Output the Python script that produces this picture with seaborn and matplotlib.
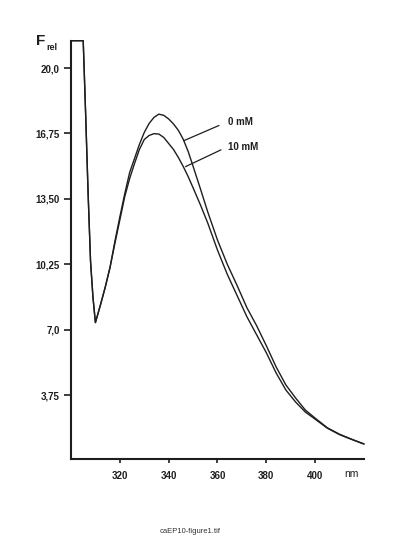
import pandas as pd
import matplotlib
matplotlib.use("Agg")
import matplotlib.pyplot as plt
import seaborn as sns

# --- data -------------------------------------------------------
NM = [300, 305, 306, 307, 308, 309, 310, 312, 314, 316, 318, 320, 322,
      324, 326, 328, 330, 332, 334, 336, 338, 340, 342, 344, 346, 348,
      350, 353, 356, 360, 364, 368, 372, 376, 380, 384, 388, 392, 396,
      400, 405, 410, 415, 420]

F_0MM = [21.36, 21.36, 17.7, 13.8, 10.4, 8.6, 7.35, 8.2, 9.1, 10.1, 11.4,
         12.6, 13.75, 14.8, 15.5, 16.2, 16.8, 17.25, 17.55, 17.71, 17.65,
         17.47, 17.22, 16.9, 16.45, 15.85, 15.12, 14.0, 12.85, 11.45,
         10.25, 9.2, 8.1, 7.2, 6.2, 5.15, 4.25, 3.6, 3.0, 2.6, 2.12, 1.8,
         1.55, 1.32]

F_10MM = [21.36, 21.36, 17.7, 13.8, 10.4, 8.6, 7.35, 8.2, 9.1, 10.1, 11.3,
          12.45, 13.6, 14.5, 15.25, 15.95, 16.45, 16.65, 16.74, 16.72, 16.55,
          16.25, 15.95, 15.55, 15.1, 14.6, 14.05, 13.2, 12.3, 10.95,
          9.75, 8.7, 7.65, 6.75, 5.85, 4.85, 4.0, 3.4, 2.9, 2.55, 2.1, 1.78,
          1.54, 1.31]

Y_TICKS = [20.0, 16.75, 13.5, 10.25, 7.0, 3.75]
Y_LABELS = ["20,0", "16,75", "13,50", "10,25", "7,0", "3,75"]
X_TICKS = [320, 340, 360, 380, 400]

INK = "#1e1e1e"

sns.set_theme(style="white")
plt.rcParams["font.family"] = ["Liberation Sans", "DejaVu Sans"]

fig = plt.figure(figsize=(4.07, 5.47), dpi=100)
ax = fig.add_axes([71 / 407, 1 - 459 / 547, (364 - 71) / 407, (459 - 40.7) / 547])

df = pd.DataFrame({"nm": NM, "0 mM": F_0MM, "10 mM": F_10MM})
for col in ["0 mM", "10 mM"]:
    sns.lineplot(data=df, x="nm", y=col, color=INK, lw=1.0, ax=ax,
                 clip_on=False)

ax.set_xlim(300, 420)
ax.set_ylim(0.57, 21.36)
ax.set_xlabel("")
ax.set_ylabel("")

ax.set_yticks(Y_TICKS)
ax.set_yticklabels(Y_LABELS)
ax.set_xticks(X_TICKS)
ax.set_xticklabels([str(t) for t in X_TICKS])

for s in ["top", "right"]:
    ax.spines[s].set_visible(False)
for s in ["left", "bottom"]:
    ax.spines[s].set_color(INK)
    ax.spines[s].set_linewidth(1.5)

ax.tick_params(axis="y", direction="out", length=5, width=1.2,
               color=INK, pad=3, labelsize=7, labelcolor=INK, left=True)
ax.tick_params(axis="x", direction="out", length=3, width=1.2,
               color=INK, pad=5.5, labelsize=7, labelcolor=INK, bottom=True)
for lab in ax.get_xticklabels() + ax.get_yticklabels():
    lab.set_fontweight("bold")

# leader lines to the curve labels
ax.annotate("0 mM", xy=(346.2, 16.39), xytext=(364.3, 17.34),
            ha="left", va="center", fontsize=7, fontweight="bold", color=INK,
            arrowprops=dict(arrowstyle="-", color=INK, lw=0.9,
                            relpos=(0, 0.5), shrinkA=4.5, shrinkB=0))
ax.annotate("10 mM", xy=(346.9, 15.10), xytext=(364.3, 16.10),
            ha="left", va="center", fontsize=7, fontweight="bold", color=INK,
            arrowprops=dict(arrowstyle="-", color=INK, lw=0.9,
                            relpos=(0, 0.5), shrinkA=3, shrinkB=0))

# axis captions
fig.text(36 / 407, 1 - 45 / 547, "F", fontsize=11, fontweight="bold",
         color=INK, ha="left", va="baseline")
fig.text(46.5 / 407, 1 - 47.5 / 547, "rel", fontsize=6.5, fontweight="bold",
         color=INK, ha="left", va="center")
fig.text(351.7 / 407, 1 - 474.3 / 547, "nm", fontsize=7.5, color=INK,
         ha="center", va="center")

fig.text(190.5 / 407, 1 - 531.7 / 547, "caEP10-figure1.tif", fontsize=5.5,
         color="#333333", ha="center", va="center")

fig.savefig("out.png", dpi=100)
